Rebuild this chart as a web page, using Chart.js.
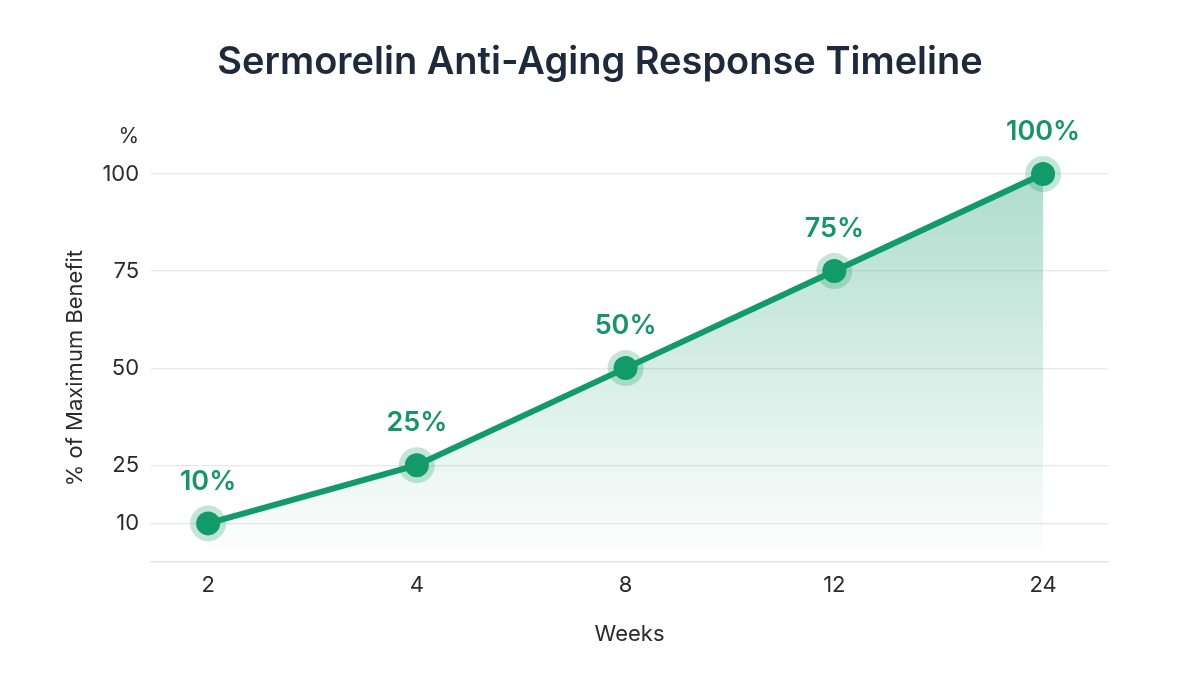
<!DOCTYPE html>
<html lang="en">
<head>
    <meta charset="UTF-8">
    <title>Sermorelin Anti-Aging Response Timeline</title>
    <script src="https://cdn.jsdelivr.net/npm/chart.js"></script>
    <style>
        html, body {
            margin: 0;
            padding: 0;
            background: #ffffff;
        }
        .wrap {
            width: 1200px;
            height: 675px;
        }
    </style>
</head>
<body>
    <div class="wrap">
        <canvas id="grafico"></canvas>
    </div>

    <script>
        // dados
        const semanas = ['2', '4', '8', '12', '24'];
        const beneficio = [10, 25, 50, 75, 100];
        const ticksY = [10, 25, 50, 75, 100];

        const verde = '#129a6b';
        const pontos = beneficio.map((v, i) => ({ x: i, y: v }));

        // título centrado na página, rótulos "10%" etc. e o "%" no topo do eixo
        const rotulos = {
            id: 'rotulos',
            afterDatasetsDraw(chart) {
                const ctx = chart.ctx;
                const meta = chart.getDatasetMeta(1);
                ctx.save();
                ctx.textBaseline = 'middle';

                ctx.fillStyle = '#1e293b';
                ctx.font = '600 38px Inter';
                ctx.textAlign = 'center';
                ctx.fillText('Sermorelin Anti-Aging Response Timeline', chart.width / 2, 63);

                ctx.fillStyle = '#17946a';
                ctx.font = '600 27px Inter';
                meta.data.forEach((p, i) => {
                    ctx.fillText(beneficio[i] + '%', p.x, p.y - 42);
                });

                const y = chart.scales.y;
                ctx.fillStyle = '#2b2b2b';
                ctx.font = '21px Inter';
                ctx.textAlign = 'right';
                ctx.fillText('%', chart.chartArea.left - 12, y.getPixelForValue(100) - 37);
                ctx.restore();
            }
        };

        const ctx = document.getElementById('grafico').getContext('2d');

        new Chart(ctx, {
            type: 'line',
            data: {
                datasets: [
                    {
                        // halo dos pontos
                        data: pontos,
                        showLine: false,
                        pointRadius: 18,
                        pointHoverRadius: 18,
                        pointBackgroundColor: 'rgba(18,154,107,0.25)',
                        pointBorderWidth: 0,
                        clip: false,
                        order: 2
                    },
                    {
                        data: pontos,
                        borderColor: verde,
                        borderWidth: 6,
                        pointRadius: 12,
                        pointHoverRadius: 12,
                        pointBackgroundColor: verde,
                        pointBorderWidth: 0,
                        tension: 0,
                        clip: false,
                        fill: 'origin',
                        backgroundColor: function(context) {
                            const area = context.chart.chartArea;
                            if (!area) return 'rgba(18,154,107,0.2)';
                            const g = context.chart.ctx.createLinearGradient(0, area.top, 0, area.bottom);
                            g.addColorStop(0, 'rgba(18,154,107,0.34)');
                            g.addColorStop(1, 'rgba(18,154,107,0)');
                            return g;
                        },
                        order: 1
                    }
                ]
            },
            options: {
                responsive: true,
                maintainAspectRatio: false,
                animation: false,
                layout: {
                    padding: { left: 62, right: 92, top: 174, bottom: 27 }
                },
                plugins: {
                    legend: { display: false },
                    tooltip: { enabled: false },
                    title: { display: false }
                },
                scales: {
                    x: {
                        type: 'linear',
                        min: -0.273,
                        max: 4.311,
                        afterBuildTicks: (axis) => {
                            axis.ticks = semanas.map((s, i) => ({ value: i }));
                        },
                        grid: { display: false, drawTicks: false },
                        border: { display: true, color: '#e3e5e8', width: 1.5 },
                        ticks: {
                            callback: (v) => semanas[v],
                            color: '#2b2b2b',
                            font: { family: 'Inter', size: 22 },
                            padding: 10,
                            maxRotation: 0
                        },
                        title: {
                            display: true,
                            text: 'Weeks',
                            color: '#2b2b2b',
                            font: { family: 'Inter', size: 22 },
                            padding: { top: 13, bottom: 0 }
                        }
                    },
                    y: {
                        min: 0,
                        max: 100,
                        afterBuildTicks: (axis) => {
                            axis.ticks = ticksY.map(v => ({ value: v }));
                        },
                        grid: { color: '#e6e8eb', lineWidth: 1.2, drawTicks: false },
                        border: { display: false },
                        ticks: {
                            color: '#2b2b2b',
                            font: { family: 'Inter', size: 22 },
                            padding: 12
                        },
                        title: {
                            display: true,
                            text: '% of Maximum Benefit',
                            color: '#2b2b2b',
                            font: { family: 'Inter', size: 22 },
                            padding: { top: 0, bottom: 2 }
                        }
                    }
                }
            },
            plugins: [rotulos]
        });
    </script>
</body>
</html>
